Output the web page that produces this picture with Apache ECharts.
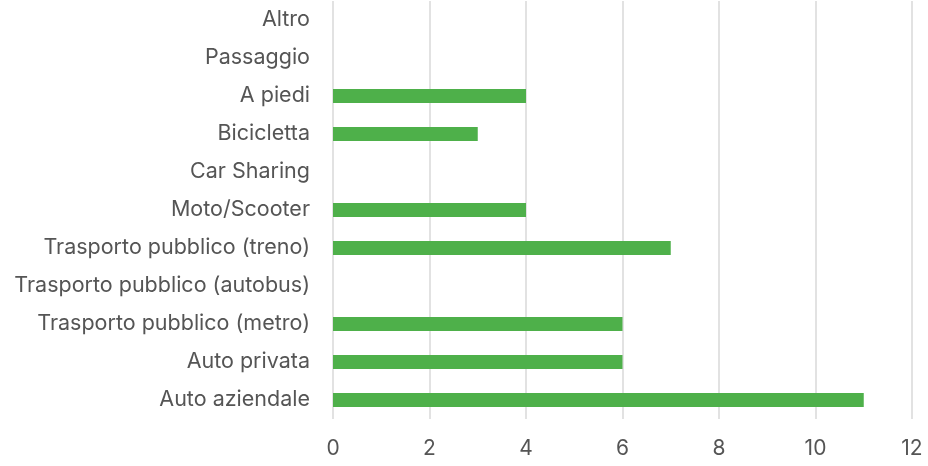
<!DOCTYPE html>
<html>
<head>
<meta charset="utf-8">
<script src="https://cdn.jsdelivr.net/npm/echarts@6/dist/echarts.min.js"></script>
<style>
  html, body { margin: 0; padding: 0; background: #fff; }
  #chart { width: 928px; height: 466px; }
</style>
</head>
<body>
<div id="chart"></div>
<script>
// Commuting modes, listed bottom to top
const categories = [
  'Auto aziendale',
  'Auto privata',
  'Trasporto pubblico (metro)',
  'Trasporto pubblico (autobus)',
  'Trasporto pubblico (treno)',
  'Moto/Scooter',
  'Car Sharing',
  'Bicicletta',
  'A piedi',
  'Passaggio',
  'Altro'
];
const counts = [11, 6, 6, 0, 7, 4, 0, 3, 4, 0, 0];
const xTicks = [0, 2, 4, 6, 8, 10, 12];

const chart = echarts.init(document.getElementById('chart'));
chart.setOption({
  animation: false,
  textStyle: { fontFamily: 'Inter' },
  grid: { left: 333, right: 16, top: 1, bottom: 47, containLabel: false },
  xAxis: {
    type: 'value',
    min: xTicks[0],
    max: xTicks[xTicks.length - 1],
    interval: 2,
    axisLine: { show: false },
    axisTick: { show: false },
    axisLabel: { color: '#555555', fontSize: 21, margin: 19 },
    splitLine: { lineStyle: { color: '#d9d9d9', width: 1.5 } }
  },
  yAxis: {
    type: 'category',
    data: categories,
    axisLine: { show: false },
    axisTick: { show: false },
    axisLabel: { color: '#555555', fontSize: 21.5, margin: 23, padding: [3, 0, 0, 0] }
  },
  series: [{
    type: 'bar',
    data: counts,
    barWidth: 14,
    itemStyle: { color: '#4eb04a' }
  }]
});
</script>
</body>
</html>
